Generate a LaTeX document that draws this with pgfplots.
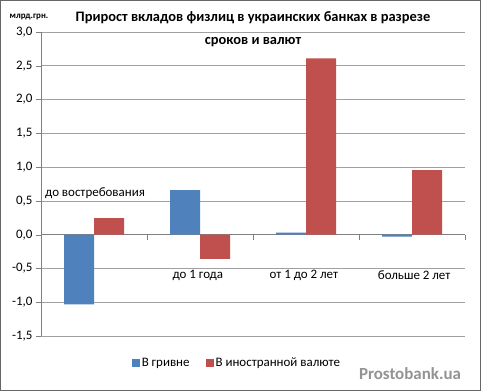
\documentclass[border=0pt]{standalone}
\usepackage{pgfplots}
\pgfplotsset{compat=1.18}
\usepackage{fontspec}
\setmainfont{Carlito}
\definecolor{xblue}{HTML}{4F81BD}
\definecolor{xred}{HTML}{C0504D}
\definecolor{xgrid}{HTML}{A0A0A0}
\begin{document}
\begin{tikzpicture}[x=1bp,y=1bp]
\draw[draw=gray!80!black, line width=1bp, fill=white] (0.5,0.5) rectangle (480.5,390.5);
\begin{axis}[
  at={(41bp,55bp)}, anchor=south west,
  width=424bp, height=304bp, scale only axis,
  xmin=-0.5, xmax=3.5, ymin=-1.5, ymax=3.0,
  ytick={-1.5,-1,...,3.0},
  xtick={-0.5,0.5,1.5,2.5,3.5}, xticklabels={},
  axis x line*=middle, axis y line*=left,
  x axis line style={-, draw=gray}, y axis line style={-, draw=gray},
  tick align=outside, major tick length=5bp,
  tick style={draw=gray},
  ymajorgrids, grid style={draw=xgrid, line width=0.6bp},
  ybar=0pt, bar width=30bp,
  /pgf/number format/.cd, fixed, fixed zerofill, precision=1, use comma, assume math mode=true,
  /pgfplots/.cd,
  yticklabel style={font=\fontsize{13}{15}\selectfont},
  legend style={at={(0.462,-0.089)}, anchor=center, draw=none, fill=none,
    legend columns=2, font=\fontsize{13}{15}\selectfont,
    /tikz/every even column/.append style={column sep=14bp}},
  legend image code/.code={\fill[#1] (0bp,-4bp) rectangle (8bp,4bp);},
]
\addplot[fill=xblue, draw=none] coordinates {(0,-1.03) (1,0.66) (2,0.03) (3,-0.03)};
\addplot[fill=xred, draw=none] coordinates {(0,0.245) (1,-0.36) (2,2.61) (3,0.955)};
\legend{В гривне, В иностранной валюте}
\node[font=\fontsize{13}{15}\selectfont] at (axis cs:0.01,0.61) {до востребования};
\node[font=\fontsize{13}{15}\selectfont] at (axis cs:0.98,-0.6) {до 1 года};
\node[font=\fontsize{13}{15}\selectfont] at (axis cs:1.98,-0.6) {от 1 до 2 лет};
\node[font=\fontsize{13}{15}\selectfont] at (axis cs:3.02,-0.6) {больше 2 лет};
\end{axis}
\node[font=\bfseries\fontsize{14.5}{23}\selectfont, align=center] at (253bp,362bp) {Прирост вкладов физлиц в украинских банках в разрезе\\сроков и валют};
\node[font=\bfseries\fontsize{9}{11}\selectfont] at (29bp,374bp) {млрд.грн.};
\node[font=\bfseries\fontsize{17}{20}\selectfont, text=gray!85] at (410bp,17bp) {Prostobank.ua};
\end{tikzpicture}
\end{document}
